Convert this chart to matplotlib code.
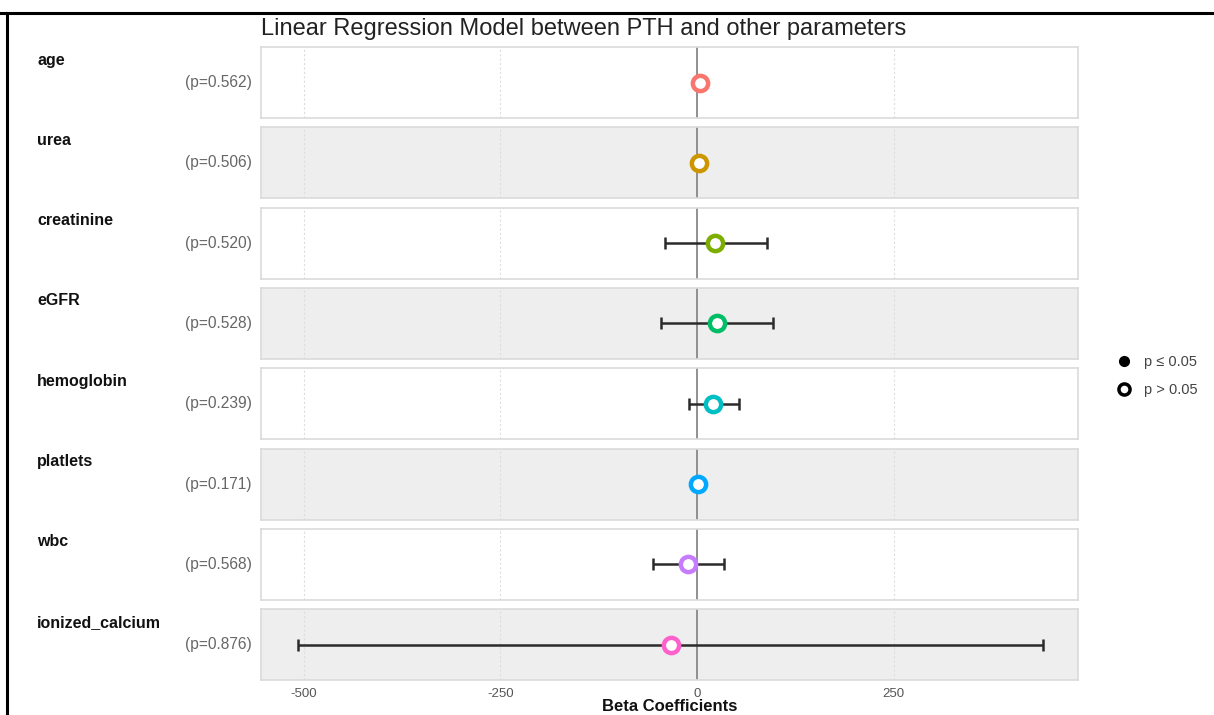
import matplotlib
matplotlib.use('Agg')
from matplotlib import pyplot as plt
from matplotlib.lines import Line2D

plt.rcParams['font.family'] = ['Liberation Sans', 'DejaVu Sans']

# data
variables = ['age', 'urea', 'creatinine', 'eGFR', 'hemoglobin', 'platlets', 'wbc', 'ionized_calcium']
p_values = ['0.562', '0.506', '0.520', '0.528', '0.239', '0.171', '0.568', '0.876']
beta = [4, 2, 23, 25, 20, 1, -12, -33]
ci_low = [1, -1, -41, -46, -10, -1, -56, -507]
ci_high = [7, 5, 89, 97, 53, 3, 34, 440]
colors = ['#F8766D', '#CD9600', '#7CAE00', '#00BE67', '#00BFC4', '#00A9FF', '#C77CFF', '#FF61CC']
xticks = [-500, -250, 0, 250]

W, H = 1214, 715
fig = plt.figure(figsize=(W / 100, H / 100), dpi=100)

# panel layout in pixels
left_px, right_px = 261, 1078
top_px, panel_h, step = 47, 71, 80.3

for i, var in enumerate(variables):
    y0 = top_px + i * step
    ax = fig.add_axes([left_px / W, 1 - (y0 + panel_h) / H,
                       (right_px - left_px) / W, panel_h / H])
    ax.set_facecolor('#EEEEEE' if i % 2 else 'white')
    for s in ax.spines.values():
        s.set_color('#DADADA')
        s.set_linewidth(1.2)
    ax.set_xlim(-554, 484)
    ax.set_ylim(-1, 1)
    for t in xticks:
        if t != 0:
            ax.axvline(t, color='#DDDDDD', lw=0.8, ls=(0, (2, 2)), zorder=0)
    ax.axvline(0, color='#888888', lw=1.3, zorder=1)
    ax.errorbar(beta[i], 0, xerr=[[beta[i] - ci_low[i]], [ci_high[i] - beta[i]]],
                fmt='none', ecolor='#2b2b2b', elinewidth=1.8, capsize=4, capthick=1.8, zorder=2)
    ax.plot(beta[i], 0, 'o', ms=11, mfc='white', mec=colors[i], mew=3.2, zorder=3)
    ax.set_yticks([])
    ax.set_xticks(xticks)
    ax.tick_params(length=0)
    if i < len(variables) - 1:
        ax.set_xticklabels([])
    else:
        ax.set_xticklabels([str(t) for t in xticks], color='#555555', fontsize=9.5)
        ax.tick_params(axis='x', pad=6)
    fig.text(37 / W, 1 - (y0 + 13) / H, var, fontsize=11.5, fontweight='bold',
             ha='left', va='center', color='#111111')
    fig.text(252 / W, 1 - (y0 + panel_h / 2) / H, '(p=%s)' % p_values[i],
             fontsize=11.2, ha='right', va='center', color='#666666')

fig.text(left_px / W, 1 - 29 / H, 'Linear Regression Model between PTH and other parameters',
         fontsize=17, ha='left', va='center', color='#222222')
fig.text(670 / W, 1 / H, 'Beta Coefficients', fontsize=12, fontweight='bold',
         ha='center', va='bottom', color='#111111')

handles = [Line2D([], [], marker='o', ls='none', color='black', ms=7),
           Line2D([], [], marker='o', ls='none', mfc='white', mec='black', mew=2.5, ms=8)]
fig.legend(handles, ['p \u2264 0.05', 'p > 0.05'], loc='center left',
           bbox_to_anchor=(1102 / W, 1 - 376 / H), frameon=False, fontsize=10.5,
           handletextpad=0.8, labelspacing=1.0, handlelength=1.2)
for t in fig.legends[0].get_texts():
    t.set_color('#444444')

# screenshot frame
fig.add_artist(Line2D([0, 1], [1 - 13 / H, 1 - 13 / H], color='black', lw=2.2))
fig.add_artist(Line2D([7 / W, 7 / W], [0, 1 - 13 / H], color='black', lw=2.2))

fig.savefig('out.png', dpi=100)
